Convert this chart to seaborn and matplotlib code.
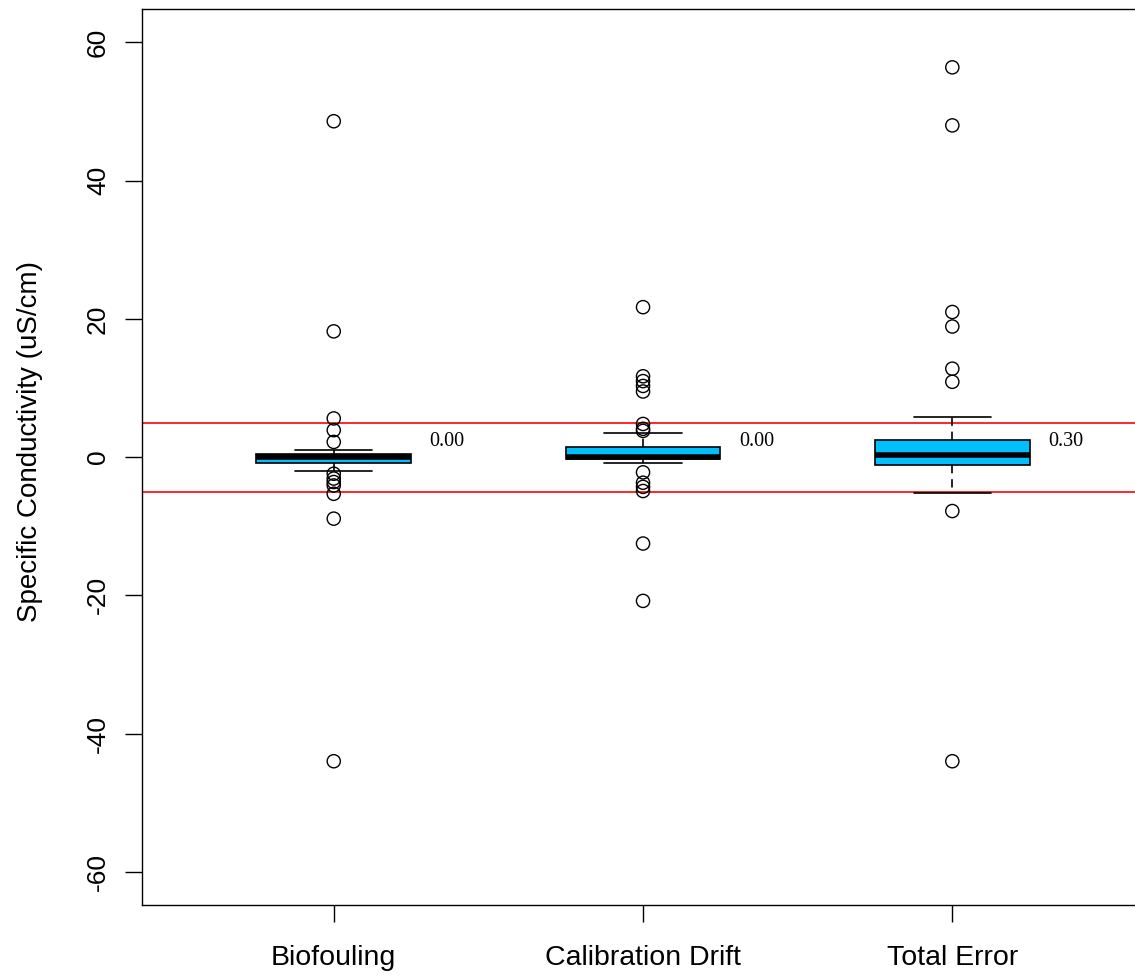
import numpy as np
import pandas as pd
import seaborn as sns
import matplotlib.pyplot as plt

groups = ["Biofouling", "Calibration Drift", "Total Error"]

# box summaries: lower whisker, Q1, median, Q3, upper whisker
biofouling_box = [-2.0, -0.9, 0.0, 0.5, 1.1]
drift_box = [-0.9, -0.3, 0.0, 1.5, 3.5]
total_box = [-5.2, -1.1, 0.3, 2.5, 5.8]

# outlying points
biofouling_out = [48.6, 18.2, 5.6, 3.9, 2.2, -2.4, -3.1, -3.6, -4.1, -5.3, -8.9, -44.0]
drift_out = [21.7, 11.7, 11.0, 10.3, 9.5, 4.8, 4.1, 3.8,
             -2.2, -3.7, -4.3, -4.9, -12.5, -20.8]
total_out = [56.4, 48.0, 21.0, 18.9, 12.8, 10.9, -7.8, -44.0]

median_labels = ["0.00", "0.00", "0.30"]
limit_lines = [-5, 5]
y_ticks = [-60, -40, -20, 0, 20, 40, 60]

box_df = pd.DataFrame({
    "group": np.repeat(groups, 5),
    "value": biofouling_box + drift_box + total_box,
})
out_df = pd.DataFrame({
    "group": ["Biofouling"] * len(biofouling_out)
    + ["Calibration Drift"] * len(drift_out)
    + ["Total Error"] * len(total_out),
    "value": biofouling_out + drift_out + total_out,
})

sns.set_style("white")
plt.rcParams["font.family"] = ["Liberation Sans", "DejaVu Sans"]
plt.rcParams["axes.unicode_minus"] = False
plt.rcParams["text.color"] = "black"
plt.rcParams["axes.labelcolor"] = "black"
plt.rcParams["xtick.color"] = "black"
plt.rcParams["ytick.color"] = "black"

fig = plt.figure(figsize=(11.35, 9.77), dpi=100)
ax = fig.add_axes([0.1251, 0.0737, 0.8829, 0.9168])

# limit lines at +/- 5
for y in limit_lines:
    ax.axhline(y, color="red", linewidth=1.2, zorder=1)

# whisker ends are the min/max of each five-number list
sns.boxplot(data=box_df, x="group", y="value", order=groups, whis=(0, 100),
            width=0.5, color="#00BFFF", saturation=1, linecolor="black",
            linewidth=1.2, showfliers=False,
            medianprops=dict(linewidth=4, color="black"),
            whiskerprops=dict(linestyle=(0, (5, 3.5))),
            ax=ax)

sns.stripplot(data=out_df, x="group", y="value", order=groups, jitter=False,
              color="black", facecolors="none", edgecolor="black",
              linewidth=1.0, size=9.5, ax=ax)

for i, lab in enumerate(median_labels):
    ax.text(i + 0.31, 2.3, lab, ha="left", va="center", fontsize=14.5,
            family=["Liberation Serif", "DejaVu Serif"])

ax.set_xlim(-0.62, 2.62)
ax.set_ylim(-64.8, 64.8)
ax.set_yticks(y_ticks)
ax.set_yticklabels([str(t) for t in y_ticks], rotation=90, va="center")
ax.set_xlabel("")
ax.set_ylabel("Specific Conductivity (uS/cm)", fontsize=20)
ax.yaxis.set_label_coords(-0.099, 0.517)

ax.tick_params(axis="x", length=12, width=1, pad=17,
               labelsize=20.5, direction="out", bottom=True)
ax.tick_params(axis="y", length=12, width=1, pad=11,
               labelsize=19, direction="out", left=True)
for side in ["left", "top", "bottom"]:
    ax.spines[side].set_color("black")
    ax.spines[side].set_linewidth(1.0)
ax.spines["right"].set_visible(False)

fig.savefig("out.png", dpi=100)
